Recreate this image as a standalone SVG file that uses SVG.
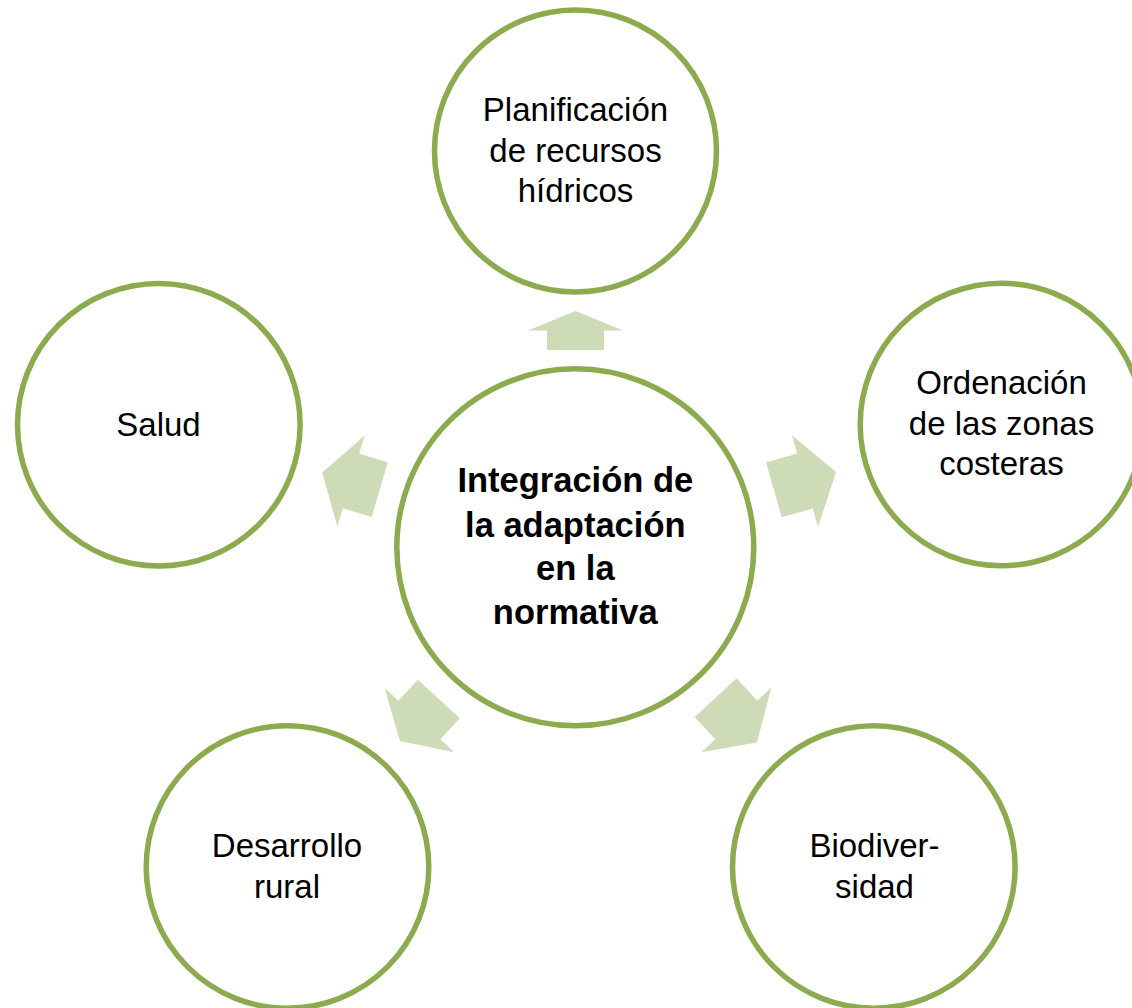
<svg xmlns="http://www.w3.org/2000/svg" width="1132" height="1008" viewBox="0 0 1132 1008">
<defs>
<style>
.node circle{fill:#FFFFFF;stroke:#8CAB4E;stroke-width:5.5}
.lbl{font-family:"Liberation Sans",Arial,sans-serif;font-size:33px;fill:#000000;text-anchor:middle}
.bold{font-weight:bold;font-size:34.5px}
.arr{fill:#CDDBB6;stroke:none}
</style>
</defs>
<rect x="0" y="0" width="1132" height="1008" fill="#FFFFFF"/>
<g id="connectors">
<polygon class="arr" transform="translate(575.5,330.5) rotate(-90)" points="-19.5,-28.5 0,-28.5 0,-47.5 19.5,0 0,47.5 0,28.5 -19.5,28.5"/>
<polygon class="arr" transform="translate(805,481) rotate(-16)" points="-32.35,-28.5 0,-28.5 0,-47.5 32.35,0 0,47.5 0,28.5 -32.35,28.5"/>
<polygon class="arr" transform="translate(351,481) rotate(196.7)" points="-30,-28.5 0,-28.5 0,-47.5 30,0 0,47.5 0,28.5 -30,28.5"/>
<polygon class="arr" transform="translate(419.4,720) rotate(132.7)" points="-28.6,-28.5 0,-28.5 0,-47.5 28.6,0 0,47.5 0,28.5 -28.6,28.5"/>
<polygon class="arr" transform="translate(736.3,720) rotate(47.3)" points="-30.5,-28.5 0,-28.5 0,-47.5 30.5,0 0,47.5 0,28.5 -30.5,28.5"/>
</g>
<g id="node-center" class="node">
<circle cx="575.3" cy="547.3" r="178.5"/>
<text class="lbl bold" x="575.3" y="492.3">Integración de</text>
<text class="lbl bold" x="575.3" y="536.7">la adaptación</text>
<text class="lbl bold" x="575.3" y="580">en la</text>
<text class="lbl bold" x="575.3" y="624.3">normativa</text>
</g>
<g id="node-planificacion" class="node">
<circle cx="575.5" cy="151" r="141"/>
<text class="lbl" x="575.5" y="121">Planificación</text>
<text class="lbl" x="575.5" y="161.5">de recursos</text>
<text class="lbl" x="575.5" y="201.7">hídricos</text>
</g>
<g id="node-ordenacion" class="node">
<circle cx="1001.5" cy="424.5" r="141.3"/>
<text class="lbl" x="1001.5" y="394">Ordenación</text>
<text class="lbl" x="1001.5" y="435">de las zonas</text>
<text class="lbl" x="1001.5" y="474.5">costeras</text>
</g>
<g id="node-salud" class="node">
<circle cx="158.8" cy="424.7" r="141.3"/>
<text class="lbl" x="158.5" y="435.7">Salud</text>
</g>
<g id="node-desarrollo" class="node">
<circle cx="287.5" cy="867" r="141.3"/>
<text class="lbl" x="287" y="857.3">Desarrollo</text>
<text class="lbl" x="287" y="898.3">rural</text>
</g>
<g id="node-biodiversidad" class="node">
<circle cx="873.8" cy="867" r="141.3"/>
<text class="lbl" x="874.5" y="857.3">Biodiver-</text>
<text class="lbl" x="874.5" y="898.3">sidad</text>
</g>
</svg>
